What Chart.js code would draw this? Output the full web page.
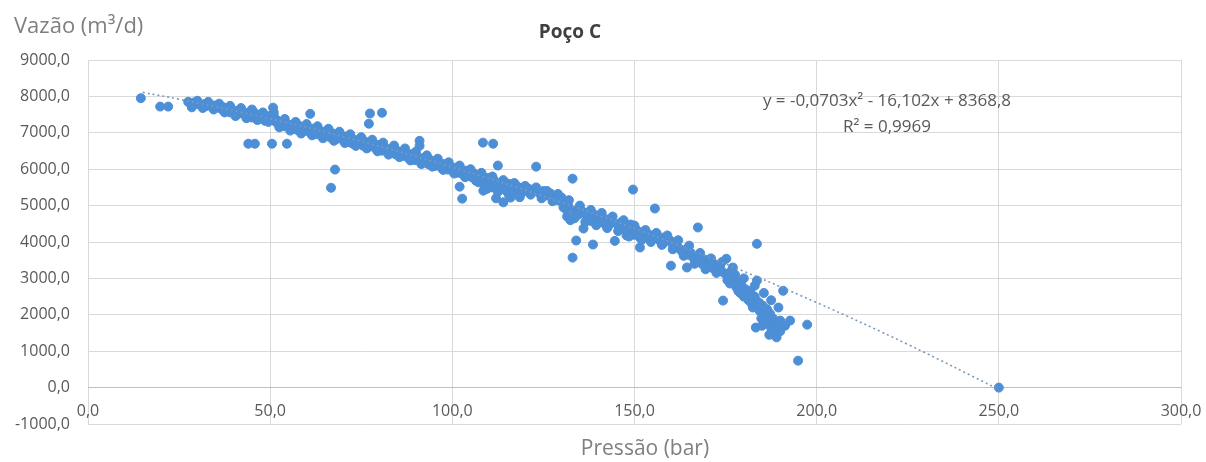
<!DOCTYPE html>
<html lang="pt">
<head>
<meta charset="utf-8">
<title>Poço C</title>
<script src="https://cdn.jsdelivr.net/npm/chart.js@4.4.0/dist/chart.umd.min.js"></script>
<style>
    html, body { margin: 0; padding: 0; background: #ffffff; }
    #wrap { width: 1206px; height: 462px; position: relative; }
</style>
</head>
<body>
<div id="wrap"><canvas id="grafico"></canvas></div>
<script>
// Dados (Pressão em bar, Vazão em m3/d)
const pressao = [
    14.5, 19.8, 22.0,
    27.5, 28.2, 29.0, 29.8, 30.5, 31.2, 32.0, 32.6, 33.3, 34.0,
    34.6, 35.3, 36.0, 36.5, 37.2, 37.8, 38.5, 39.0, 39.6, 40.2,
    40.8, 41.4, 42.0, 42.6, 43.2, 43.9, 44.5, 45.0, 45.6, 46.2,
    46.8, 47.4, 48.0, 48.6, 49.2, 49.8, 50.5, 51.0, 51.5, 50.8,
    44.0, 45.8, 50.5, 54.6,
    52.0, 52.6, 53.2, 53.8, 54.4, 55.0, 55.6, 56.2, 56.8, 57.4,
    58.0, 58.6, 59.2, 59.8, 60.4, 61.0, 61.0, 61.6, 62.2, 62.8,
    63.4, 64.0, 64.6, 65.2, 65.8, 66.4, 67.0, 67.6, 68.2, 68.8,
    69.4, 70.0, 70.6, 71.2, 71.8, 72.4, 73.0, 73.6, 74.2, 74.8,
    75.4, 76.0, 76.6, 77.2, 77.8, 78.4, 79.0, 79.6, 80.2, 80.8,
    81.4, 82.0, 82.6, 83.2, 83.8, 84.4, 85.0, 85.6, 86.2, 86.8,
    87.4, 88.0, 88.6, 89.2, 89.8, 90.4, 91.0, 91.0, 91.0, 91.6,
    92.2, 92.8, 93.4, 94.0, 94.6, 95.2, 95.8, 96.4, 97.0, 97.6,
    98.2, 98.8, 99.4,
    67.8, 66.7, 77.4, 80.7, 77.1, 72.7,
    100.0, 100.6, 101.2, 101.8, 102.4, 103.0, 103.6, 104.2, 104.8, 105.4,
    106.0, 106.6, 107.2, 107.8, 108.4, 109.0, 109.6, 110.2, 110.8, 111.4,
    112.0, 112.5, 113.0, 113.6, 114.2, 114.8, 115.4, 116.0, 116.4, 117.0,
    117.6, 118.2, 118.8, 119.4, 120.0, 121.0, 122.0, 123.0, 123.0, 124.0,
    125.0, 126.0, 127.0, 128.0, 128.6, 129.2, 130.0, 130.6, 131.2, 131.5,
    131.8, 132.4, 133.0, 133.0, 133.5, 134.0, 134.6, 135.2, 136.0, 136.4,
    137.0, 137.6, 138.0, 138.6, 139.0, 139.7, 140.4, 141.0, 141.8, 142.5,
    143.2, 144.0, 144.6, 145.5, 146.2, 147.0, 147.8, 148.5, 149.0, 149.6,
    150.0, 150.7, 151.5, 152.0, 152.6, 153.3, 154.0, 155.0, 155.6, 156.0,
    156.8, 157.5, 158.2, 159.0, 159.8, 160.0, 160.6, 161.3, 162.0, 162.5,
    163.2, 164.0, 164.4, 164.8, 102.0, 102.7, 108.5, 114.0, 112.0, 108.4,
    111.2,
    165.5, 166.2, 167.0, 167.4, 167.8, 168.5, 169.2, 170.0, 170.8, 171.5,
    172.2, 172.8, 173.5, 174.3, 174.5, 175.2, 175.6, 176.2, 176.5, 177.0,
    177.6, 178.0, 178.5, 179.0, 179.4, 180.0, 180.5, 180.9, 181.3, 181.8,
    182.2, 182.5, 183.0, 183.3, 183.6, 183.6, 184.0, 184.4, 184.8, 185.2,
    185.6, 186.0, 186.4, 186.8, 187.2, 187.6, 188.0, 188.4, 188.8, 189.0,
    189.5, 190.0, 190.0, 190.8, 191.3, 192.7, 194.9, 197.4,
    250.0
];
const vazao = [
    7950, 7720, 7720,
    7850, 7800, 7830, 7790, 7810, 7760, 7790, 7740, 7770, 7720,
    7750, 7700, 7730, 7660, 7700, 7620, 7680, 7560, 7640, 7590,
    7500, 7620, 7540, 7580, 7470, 7550, 7520, 7420, 7560, 7480,
    7380, 7500, 7440, 7330, 7460, 7400, 7350, 7560, 7300, 7690,
    6700, 6700, 6700, 6700,
    7340, 7230, 7300, 7180, 7260, 7200, 7120, 7230, 7150, 7080,
    7190, 7110, 7050, 7150, 7070, 7520, 7000, 7110, 7040, 6960,
    7080, 7000, 6930, 7040, 6960, 6880, 6990, 6900, 6830, 6940,
    6870, 6800, 6900, 6820, 6740, 6850, 6770, 6700, 6810, 6720,
    6650, 6760, 6690, 6620, 6720, 6640, 6560, 6670, 6590, 6510,
    6610, 6540, 6460, 6560, 6490, 6410, 6500, 6430, 6360, 6460,
    6380, 6300, 6410, 6330, 6250, 6360, 6780, 6640, 6280, 6200,
    6310, 6230, 6140, 6250, 6170, 6090, 6190, 6110, 6040, 6140,
    6060, 5990, 6090,
    5990, 5490, 7530, 7550, 7250, 6700,
    6020, 5950, 6050, 5900, 6000, 5860, 5960, 5820, 5930, 5780,
    5880, 5760, 5640, 5820, 5700, 5560, 5760, 5650, 5500, 5700,
    5600, 6100, 5480, 5650, 5540, 5400, 5600, 5220, 5500, 5380,
    5550, 5460, 5320, 5500, 5400, 5460, 5380, 6070, 5430, 5330,
    5400, 5280, 5330, 5200, 5280, 5140, 5220, 5050, 4900, 4700,
    5000, 4600, 5740, 3570, 4860, 4040, 4750, 4900, 4370, 4800,
    4700, 4620, 4580, 3930, 4750, 4670, 4550, 4690, 4500, 4620,
    4480, 4550, 4030, 4470, 4530, 4380, 4180, 4300, 4480, 5440,
    4200, 4320, 3850, 4060, 4250, 4140, 4200, 4100, 4920, 4150,
    4050, 4120, 3990, 4070, 4040, 3350, 3900, 3980, 3850, 3800,
    3720, 3780, 3300, 3650, 5520, 5190, 5410, 5090, 5200, 6730,
    6700,
    3700, 3560, 3620, 4400, 3480, 3400, 3520, 3350, 3450, 3280,
    3380, 3250, 3300, 2390, 3150, 3540, 3050, 2860, 3200, 2950,
    3100, 2750, 2900, 2600, 2800, 2500, 2700, 2580, 2400, 2650,
    2300, 2200, 2500, 1650, 2940, 3950, 2350, 2100, 1900, 2250,
    2000, 1750, 2150, 1800, 2030, 1600, 1900, 1450, 1700, 1380,
    1800, 1840, 1550, 2660, 1700, 1840, 740, 1730,
    0
];

// Pontos das bordas da faixa densa (espessura da nuvem)
const pressaoBanda = [
    28.5, 30.0, 31.5, 33.0, 34.5, 36.0, 37.5, 39.0, 40.5, 42.0,
    43.5, 45.0, 46.5, 48.0, 49.5, 51.0, 52.5, 54.0, 55.5, 57.0,
    58.5, 60.0, 61.5, 63.0, 64.5, 66.0, 67.5, 69.0, 70.5, 72.0,
    73.5, 75.0, 76.5, 78.0, 79.5, 81.0, 82.5, 84.0, 85.5, 87.0,
    88.5, 90.0, 91.5, 93.0, 94.5, 96.0, 97.5, 99.0, 100.5, 102.0,
    103.5, 105.0, 106.5, 108.0, 109.5, 111.0, 112.5, 114.0, 115.5, 117.0,
    118.5, 120.0, 121.5, 123.0, 124.5, 126.0, 127.5, 129.0, 130.5, 132.0,
    133.5, 135.0, 136.5, 138.0, 139.5, 141.0, 142.5, 144.0, 145.5, 147.0,
    148.5, 150.0, 151.5, 153.0, 154.5, 156.0, 157.5, 159.0, 160.5, 162.0,
    163.5, 165.0, 166.5, 168.0, 169.5, 171.0, 172.5, 174.0, 175.5, 177.0,
    178.5, 180.0, 181.5, 183.0, 184.5, 185.5, 186.5, 187.5, 188.5, 189.5,
    187.0, 185.0
];
const vazaoBanda = [
    7700, 7880, 7680, 7850, 7640, 7800, 7560, 7740, 7460, 7680,
    7400, 7640, 7350, 7560, 7300, 7460, 7150, 7380, 7060, 7300,
    6980, 7240, 6930, 7180, 6850, 7110, 6780, 7030, 6720, 6960,
    6640, 6880, 6570, 6810, 6490, 6730, 6400, 6650, 6330, 6570,
    6240, 6480, 6140, 6380, 6070, 6290, 5980, 6190, 5880, 6100,
    5780, 6000, 5680, 5900, 5460, 5800, 5380, 5700, 5300, 5620,
    5230, 5540, 5300, 5500, 5200, 5400, 5120, 5320, 4950, 5150,
    4650, 5000, 4550, 4880, 4460, 4800, 4380, 4700, 4300, 4600,
    4150, 4450, 4120, 4330, 4000, 4250, 3920, 4180, 3800, 4050,
    3620, 3900, 3400, 3700, 3250, 3550, 3150, 3450, 2950, 3300,
    2650, 3000, 2450, 2800, 2300, 2600, 1950, 2400, 1600, 2200,
    1450, 1700
];

const tendenciaX = [15, 25, 50, 75, 100, 125, 150, 175, 200, 225, 250];
const tendenciaY = [8110, 7922, 7388, 6766, 6056, 5258, 4372, 3398, 2336, 1187, -50];

// Marcas dos eixos
const xTicks = [0, 50, 100, 150, 200, 250, 300];
const yTicks = [-1000, 0, 1000, 2000, 3000, 4000, 5000, 6000, 7000, 8000, 9000];

const equacao = ['y = -0,0703x² - 16,102x + 8368,8', 'R² = 0,9969'];
const posEquacao = { x: 219.3, y: 7880 };

/* --- FUNÇÕES --- */

function formatar(v) {
    return v.toFixed(1).replace('.', ',');
}

function montarPontos(xs, ys) {
    const n = Math.min(xs.length, ys.length);
    const out = [];
    for (let i = 0; i < n; i++) out.push({ x: xs[i], y: ys[i] });
    return out;
}

// Plugin simples: títulos (gráfico e eixos, no estilo Excel) e equação
const rotulosExtras = {
    id: 'rotulosExtras',
    afterDraw(chart) {
        const ctx = chart.ctx;
        const sx = chart.scales.x, sy = chart.scales.y;
        ctx.save();
        ctx.textBaseline = 'middle';

        ctx.fillStyle = '#404040';
        ctx.font = "bold 19px 'Open Sans', sans-serif";
        ctx.textAlign = 'center';
        ctx.fillText('Poço C', 570, 33);

        ctx.fillStyle = '#7f7f7f';
        ctx.font = "22px 'Open Sans', sans-serif";
        ctx.textAlign = 'left';
        ctx.fillText('Vazão (m³/d)', 14, 27);

        ctx.font = "21px 'Open Sans', sans-serif";
        ctx.textAlign = 'center';
        ctx.fillText('Pressão (bar)', 645, 449);

        ctx.fillStyle = '#595959';
        ctx.font = "17px 'Open Sans', sans-serif";
        const cx = sx.getPixelForValue(posEquacao.x);
        const cy = sy.getPixelForValue(posEquacao.y);
        equacao.forEach((linha, i) => ctx.fillText(linha, cx, cy + i * 26));
        ctx.restore();
    }
};

Chart.defaults.font.family = "'Open Sans', sans-serif";

new Chart(document.getElementById('grafico'), {
    type: 'scatter',
    data: {
        datasets: [{
            label: 'Vazão',
            data: montarPontos(pressao, vazao).concat(montarPontos(pressaoBanda, vazaoBanda)),
            backgroundColor: '#4d8fd6',
            borderColor: '#4d8fd6',
            borderWidth: 1,
            pointRadius: 4.5,
            order: 2
        }, {
            label: 'Tendência',
            type: 'line',
            data: montarPontos(tendenciaX, tendenciaY),
            borderColor: '#7a98bf',
            borderWidth: 1.6,
            borderDash: [2, 3],
            pointRadius: 0,
            tension: 0.4,
            fill: false,
            order: 1
        }]
    },
    options: {
        responsive: true,
        maintainAspectRatio: false,
        animation: false,
        devicePixelRatio: 1,
        layout: { padding: { left: 0, right: 25, top: 60, bottom: 0 } },
        plugins: {
            legend: { display: false },
            tooltip: { enabled: false },
            title: { display: false }
        },
        scales: {
            x: {
                type: 'linear',
                min: 0,
                max: 300,
                afterBuildTicks: s => { s.ticks = xTicks.map(v => ({ value: v })); },
                afterFit: s => { s.height = 38; },
                grid: { color: '#d9d9d9', drawTicks: false },
                border: { display: false },
                ticks: {
                    mirror: true,
                    padding: 3,
                    color: '#595959',
                    font: { size: 16 },
                    maxRotation: 0,
                    callback: v => formatar(v)
                }
            },
            y: {
                min: -1000,
                max: 9000,
                afterBuildTicks: s => { s.ticks = yTicks.map(v => ({ value: v })); },
                afterFit: s => { s.width = 88; },
                grid: {
                    color: c => (c.tick && c.tick.value === 0) ? '#bfbfbf' : '#d9d9d9',
                    drawTicks: false
                },
                border: { display: false },
                ticks: {
                    padding: 18,
                    color: '#595959',
                    font: { size: 16 },
                    callback: v => formatar(v)
                }
            }
        }
    },
    plugins: [rotulosExtras]
});
</script>
</body>
</html>
